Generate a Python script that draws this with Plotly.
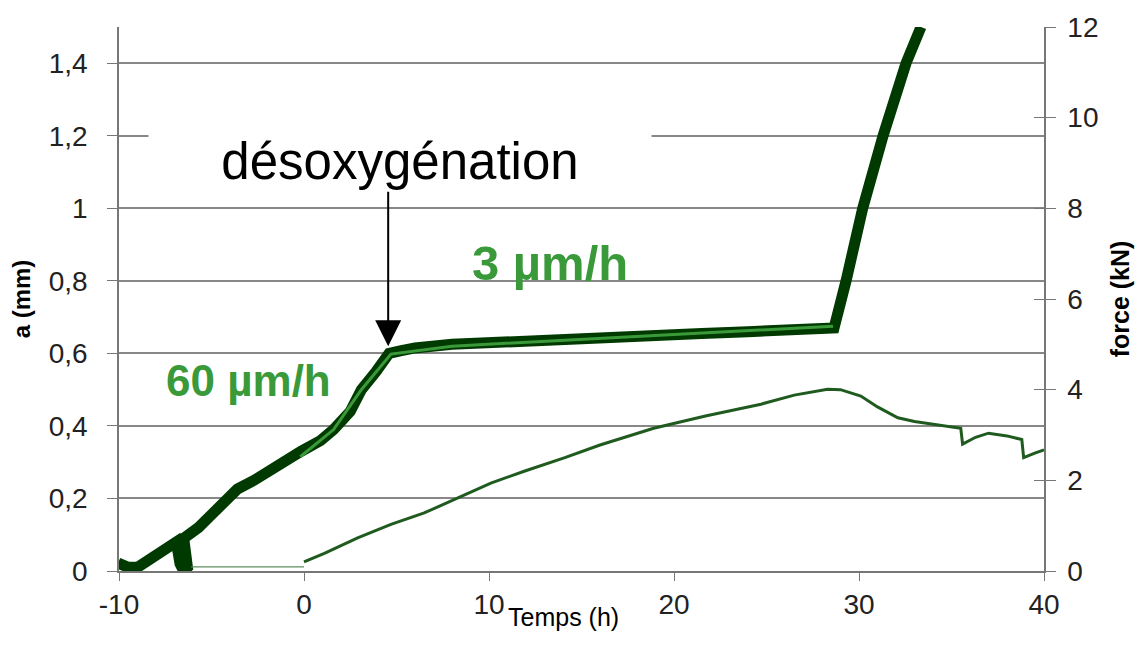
# Import Libraries

import plotly.graph_objects as go

# Data

# crack length a (mm), left axis
temps_a = [-10.05, -9.5, -9.0, -8.4, -8.1, -7.35, -6.9, -6.7, -6.5, -6.3, -6.5, -5.7, -5.0, -4.3,
           -3.6, -2.7, -1.25, -0.16, 0.9, 1.6, 2.5, 3.1, 3.9, 4.6, 5.2, 6.0, 8.0, 10.6, 13.0,
           16.0, 19.0, 21.5, 24.0, 26.9, 28.65, 29.3, 30.2, 31.3, 32.54, 33.35]
a_mm = [0.022, 0.01, 0.01, 0.028, 0.036, 0.06, 0.08, 0.02, 0.0, 0.01, 0.09, 0.12, 0.157, 0.193,
        0.226, 0.25, 0.30, 0.33, 0.36, 0.39, 0.44, 0.50, 0.55, 0.60, 0.607, 0.615, 0.625, 0.632,
        0.637, 0.643, 0.65, 0.655, 0.66, 0.666, 0.67, 0.80, 1.0, 1.2, 1.4, 1.5]

# fitted growth line (light green)
temps_fit = [-0.2, 1.6, 3.1, 4.7, 8.0, 28.6]
a_fit = [0.315, 0.39, 0.50, 0.598, 0.62, 0.675]

# force (kN), right axis
temps_f0 = [-6.1, 0.0]
force_f0 = [0.09, 0.09]
temps_f = [0.0, 1.1, 2.9, 4.7, 6.5, 8.3, 10.1, 11.9, 14.1, 16.0, 18.9, 21.7, 24.7, 26.5, 28.3,
           29.0, 30.1, 31.0, 32.1, 33.0, 33.9, 35.5, 35.6, 36.3, 37.0, 38.0, 38.8, 38.9, 39.5, 40.0]
force_kN = [0.2, 0.39, 0.73, 1.03, 1.28, 1.61, 1.94, 2.2, 2.5, 2.78, 3.15, 3.42, 3.68, 3.88, 4.01,
            4.0, 3.86, 3.62, 3.38, 3.3, 3.25, 3.15, 2.8, 2.95, 3.04, 2.98, 2.9, 2.5, 2.6, 2.67]

x_ticks = [-10, 0, 10, 20, 30, 40]
x_tick_labels = ["-10", "0", "10", "20", "30", "40"]

dark_green = "#003a00"
light_green = "#3a9a3a"
font_family = "Liberation Sans, Arial, sans-serif"

# Visualization

fig = go.Figure()
fig.add_trace(go.Scatter(
    x=temps_f0, y=force_f0, yaxis="y2", mode="lines",
    line=dict(color="#5f8f5f", width=1.2), showlegend=False
))
fig.add_trace(go.Scatter(
    x=temps_f, y=force_kN, yaxis="y2", mode="lines",
    line=dict(color="#1f5a1f", width=3), showlegend=False
))
fig.add_trace(go.Scatter(
    x=temps_a, y=a_mm, mode="lines",
    line=dict(color=dark_green, width=11), showlegend=False
))
fig.add_trace(go.Scatter(
    x=temps_fit, y=a_fit, mode="lines",
    line=dict(color=light_green, width=3), showlegend=False
))
# empty trace so the inside-tick axis (y3) gets drawn
fig.add_trace(go.Scatter(x=[None], y=[None], yaxis="y3", showlegend=False, hoverinfo="skip"))

# Annotations
fig.add_annotation(
    x=5.2, y=1.13, xref="x", yref="y",
    text="désoxygénation", showarrow=False,
    font=dict(family=font_family, size=51, color="black"),
    bgcolor="white", width=500, height=62
)
fig.add_annotation(
    x=4.55, y=0.62, ax=4.55, ay=1.05, xref="x", yref="y", axref="x", ayref="y",
    text="", showarrow=True, arrowhead=2, arrowsize=2.6, arrowwidth=2, arrowcolor="black"
)
fig.add_annotation(
    x=-3.0, y=0.524, text="<b>60 µm/h</b>", showarrow=False,
    font=dict(family=font_family, size=44, color=light_green)
)
fig.add_annotation(
    x=13.3, y=0.849, text="<b>3 µm/h</b>", showarrow=False,
    font=dict(family=font_family, size=49, color=light_green)
)
fig.add_annotation(
    x=14.0, y=0, xref="x", yref="paper", yanchor="top", yshift=-30,
    text="Temps (h)", showarrow=False,
    font=dict(family=font_family, size=25, color="black")
)

axis_font = dict(family=font_family, size=28, color="#222")
fig.update_layout(
    width=1144, height=660,
    margin=dict(l=111, r=108, t=19, b=97, autoexpand=False),
    paper_bgcolor="white", plot_bgcolor="white",
    separators=", ",
    font=dict(family=font_family, color="#222"),
    xaxis=dict(
        range=[-10, 40], tickvals=x_ticks, ticktext=x_tick_labels, ticks="outside", ticklen=8,
        tickcolor="#777", showline=True, linecolor="#777", linewidth=1.5, showgrid=False,
        zeroline=False, tickfont=axis_font, automargin=False
    ),
    yaxis=dict(
        range=[0, 1.5], dtick=0.2, tick0=0, ticks="outside", ticklen=10, tickcolor="#777",
        showline=True, linecolor="#777", linewidth=1.5, showgrid=True, gridcolor="#888",
        gridwidth=1.5, zeroline=False, tickfont=axis_font, ticklabelstandoff=14,
        automargin=False,
        title=dict(text="<b>a (mm)</b>", font=dict(family=font_family, size=24, color="black"),
                   standoff=12)
    ),
    yaxis2=dict(
        range=[0, 12], dtick=2, tick0=0, overlaying="y", side="right", anchor="x",
        ticks="outside", ticklen=10, tickcolor="#777", showline=True, linecolor="#777",
        linewidth=1.5, showgrid=False, zeroline=False, tickfont=axis_font,
        ticklabelstandoff=6, automargin=False,
        title=dict(text="<b>force (kN)</b>", font=dict(family=font_family, size=25, color="black"),
                   standoff=14)
    ),
    yaxis3=dict(
        range=[0, 12], dtick=2, tick0=0, overlaying="y", side="right", anchor="x",
        ticks="inside", ticklen=10, tickcolor="#777", showticklabels=False,
        showline=False, showgrid=False, zeroline=False, automargin=False
    )
)

fig.write_html("out.html")
